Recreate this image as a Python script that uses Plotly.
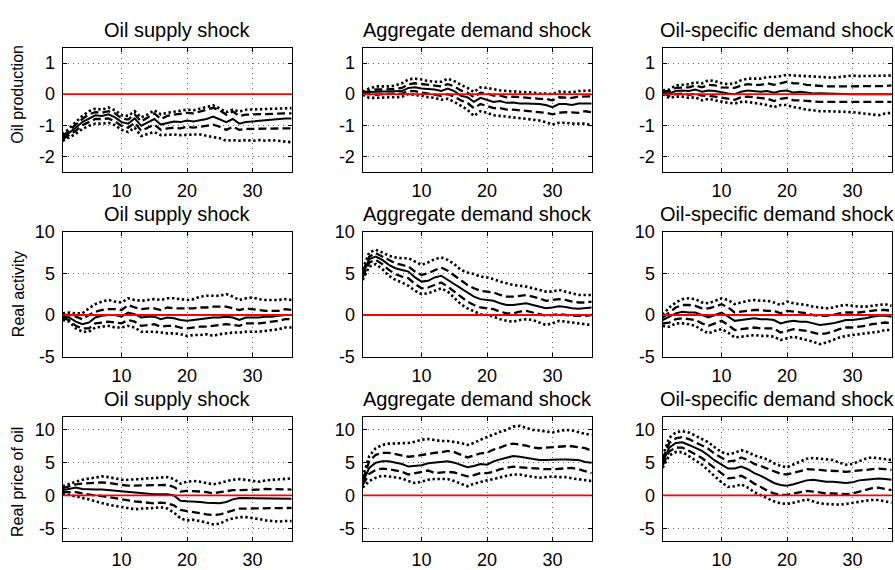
import plotly.graph_objects as go

# Horizon (months), impulse responses with 1- and 2-standard-error bands
horizon = list(range(1, 37))

shock_titles = ["Oil supply shock", "Aggregate demand shock", "Oil-specific demand shock"]
variable_labels = ["Oil production", "Real activity", "Real price of oil"]

y_ranges = [[-2.5, 1.5], [-5, 10], [-7, 12]]
y_tick_vals = [[-2, -1, 0, 1], [-5, 0, 5, 10], [-5, 0, 5, 10]]
y_tick_text = [["-2", "-1", "0", "1"], ["-5", "0", "5", "10"], ["-5", "0", "5", "10"]]
x_tick_vals = [10, 20, 30]
x_tick_text = ["10", "20", "30"]

# ---- Oil production ----
prod_supply_irf = [-1.40, -1.25, -1.08, -0.90, -0.78, -0.68, -0.70, -0.65, -0.75, -0.90, -0.95, -0.78,
                   -1.02, -0.90, -0.80, -0.98, -0.92, -0.88, -0.90, -0.85, -0.88, -0.84, -0.80, -0.72,
                   -0.80, -0.90, -0.80, -0.95, -0.90, -0.88, -0.85, -0.83, -0.80, -0.80, -0.78, -0.78]
prod_supply_hi1 = [-1.35, -1.18, -0.98, -0.80, -0.65, -0.58, -0.60, -0.55, -0.62, -0.78, -0.82, -0.65,
                   -0.88, -0.75, -0.62, -0.80, -0.70, -0.66, -0.64, -0.60, -0.62, -0.56, -0.50, -0.44,
                   -0.52, -0.66, -0.56, -0.70, -0.66, -0.65, -0.64, -0.64, -0.63, -0.62, -0.62, -0.62]
prod_supply_hi2 = [-1.30, -1.10, -0.88, -0.70, -0.55, -0.47, -0.50, -0.43, -0.52, -0.68, -0.70, -0.55,
                   -0.75, -0.65, -0.52, -0.65, -0.60, -0.56, -0.53, -0.50, -0.52, -0.47, -0.42, -0.36,
                   -0.46, -0.58, -0.50, -0.56, -0.50, -0.49, -0.48, -0.47, -0.46, -0.45, -0.45, -0.45]
prod_supply_lo1 = [-1.45, -1.32, -1.18, -1.00, -0.90, -0.80, -0.80, -0.78, -0.88, -1.02, -1.08, -0.92,
                   -1.18, -1.08, -0.98, -1.15, -1.10, -1.08, -1.10, -1.05, -1.08, -1.05, -1.02, -0.98,
                   -1.05, -1.15, -1.05, -1.15, -1.12, -1.12, -1.10, -1.10, -1.10, -1.10, -1.10, -1.10]
prod_supply_lo2 = [-1.50, -1.40, -1.28, -1.12, -1.02, -0.95, -0.95, -0.92, -1.00, -1.15, -1.22, -1.08,
                   -1.35, -1.28, -1.22, -1.32, -1.30, -1.30, -1.32, -1.30, -1.30, -1.30, -1.35, -1.38,
                   -1.42, -1.50, -1.48, -1.50, -1.48, -1.50, -1.48, -1.50, -1.48, -1.50, -1.52, -1.55]

prod_aggd_irf = [0.03, 0.07, 0.08, 0.08, 0.08, 0.09, 0.10, 0.20, 0.22, 0.18, 0.17, 0.15,
                 0.10, 0.18, 0.10, -0.05, -0.10, -0.25, -0.12, -0.18, -0.25, -0.22, -0.28, -0.27,
                 -0.30, -0.30, -0.30, -0.32, -0.35, -0.42, -0.32, -0.32, -0.35, -0.30, -0.30, -0.30]
prod_aggd_hi1 = [0.05, 0.10, 0.15, 0.15, 0.15, 0.17, 0.20, 0.32, 0.35, 0.32, 0.30, 0.28,
                 0.25, 0.32, 0.25, 0.12, 0.05, -0.10, 0.05, 0.02, -0.05, -0.05, -0.10, -0.08,
                 -0.10, -0.10, -0.12, -0.15, -0.15, -0.20, -0.10, -0.10, -0.12, -0.08, -0.07, -0.07]
prod_aggd_hi2 = [0.08, 0.18, 0.25, 0.25, 0.25, 0.28, 0.35, 0.48, 0.50, 0.47, 0.42, 0.40,
                 0.40, 0.50, 0.42, 0.30, 0.20, 0.07, 0.22, 0.20, 0.15, 0.12, 0.10, 0.08,
                 0.07, 0.06, 0.05, 0.02, 0.02, 0.00, 0.08, 0.06, 0.06, 0.10, 0.12, 0.12]
prod_aggd_lo1 = [0.02, 0.00, -0.02, 0.00, 0.00, 0.00, 0.02, 0.10, 0.10, 0.05, 0.02, 0.00,
                 -0.05, 0.00, -0.08, -0.20, -0.28, -0.45, -0.32, -0.38, -0.45, -0.45, -0.50, -0.50,
                 -0.52, -0.52, -0.55, -0.58, -0.60, -0.65, -0.60, -0.58, -0.60, -0.60, -0.55, -0.58]
prod_aggd_lo2 = [-0.02, -0.12, -0.12, -0.10, -0.10, -0.10, -0.08, 0.00, -0.02, -0.05, -0.10, -0.12,
                 -0.18, -0.15, -0.25, -0.38, -0.50, -0.70, -0.55, -0.60, -0.68, -0.70, -0.72, -0.75,
                 -0.78, -0.80, -0.82, -0.85, -0.90, -0.98, -0.92, -0.92, -0.95, -0.95, -0.95, -1.00]

prod_oild_irf = [0.05, 0.02, 0.10, 0.12, 0.10, 0.15, 0.08, 0.12, 0.10, 0.05, 0.02, 0.00,
                 0.08, 0.12, 0.10, 0.08, 0.10, 0.05, 0.10, 0.12, 0.05, 0.08, 0.05, 0.02,
                 0.03, 0.02, 0.02, 0.02, 0.00, 0.00, 0.00, 0.00, 0.00, 0.00, 0.00, 0.00]
prod_oild_hi1 = [0.10, 0.10, 0.20, 0.22, 0.22, 0.28, 0.22, 0.30, 0.28, 0.22, 0.20, 0.20,
                 0.28, 0.32, 0.30, 0.30, 0.35, 0.30, 0.35, 0.40, 0.35, 0.35, 0.30, 0.28,
                 0.28, 0.25, 0.25, 0.25, 0.24, 0.24, 0.24, 0.24, 0.24, 0.25, 0.26, 0.28]
prod_oild_hi2 = [0.12, 0.15, 0.28, 0.30, 0.32, 0.38, 0.35, 0.45, 0.42, 0.35, 0.32, 0.35,
                 0.45, 0.50, 0.50, 0.50, 0.55, 0.55, 0.58, 0.62, 0.60, 0.60, 0.58, 0.57,
                 0.56, 0.55, 0.53, 0.55, 0.57, 0.60, 0.58, 0.58, 0.58, 0.58, 0.58, 0.60]
prod_oild_lo1 = [0.02, -0.05, 0.00, 0.02, -0.02, 0.02, -0.05, -0.05, -0.08, -0.12, -0.15, -0.18,
                 -0.10, -0.08, -0.10, -0.12, -0.15, -0.22, -0.15, -0.12, -0.20, -0.20, -0.22, -0.22,
                 -0.25, -0.25, -0.25, -0.25, -0.25, -0.25, -0.25, -0.25, -0.25, -0.25, -0.25, -0.25]
prod_oild_lo2 = [0.00, -0.12, -0.08, -0.08, -0.12, -0.10, -0.20, -0.15, -0.20, -0.25, -0.28, -0.30,
                 -0.25, -0.25, -0.28, -0.30, -0.35, -0.42, -0.35, -0.35, -0.42, -0.45, -0.50, -0.52,
                 -0.55, -0.55, -0.55, -0.56, -0.57, -0.58, -0.60, -0.62, -0.65, -0.68, -0.62, -0.60]

# ---- Real activity ----
rea_supply_irf = [-0.2, -0.3, -0.8, -1.1, -0.9, -0.3, -0.1, 0.0, 0.0, -0.2, 0.3, 0.1,
                  -0.3, -0.2, -0.2, -0.5, -0.3, -0.4, -0.6, -0.7, -0.6, -0.5, -0.4, -0.3,
                  -0.3, -0.2, -0.3, -0.6, -0.3, -0.3, -0.3, -0.2, -0.2, -0.1, 0.0, 0.0]
rea_supply_hi1 = [0.0, 0.0, -0.2, -0.5, 0.0, 0.4, 0.6, 0.7, 0.7, 0.6, 1.2, 0.9,
                  0.7, 0.8, 0.8, 0.6, 0.9, 0.8, 0.8, 0.8, 0.8, 0.9, 0.9, 1.0,
                  1.0, 1.0, 0.8, 0.6, 0.8, 0.7, 0.6, 0.5, 0.5, 0.5, 0.7, 0.6]
rea_supply_hi2 = [0.2, 0.3, 0.2, 0.2, 0.8, 1.3, 1.6, 1.8, 1.6, 1.5, 2.0, 1.8,
                  1.7, 1.8, 1.9, 1.8, 2.0, 2.0, 1.9, 1.8, 1.9, 2.2, 2.3, 2.3,
                  2.3, 2.5, 2.2, 1.8, 2.0, 2.1, 1.9, 1.8, 1.8, 1.8, 1.9, 1.8]
rea_supply_lo1 = [-0.4, -0.6, -1.3, -1.6, -1.6, -1.0, -0.9, -0.8, -0.9, -1.0, -0.6, -0.8,
                  -1.3, -1.2, -1.1, -1.4, -1.3, -1.3, -1.5, -1.6, -1.5, -1.4, -1.4, -1.3,
                  -1.2, -1.1, -1.2, -1.3, -1.0, -1.0, -1.0, -0.9, -0.8, -0.7, -0.5, -0.5]
rea_supply_lo2 = [-0.6, -0.8, -1.6, -2.0, -2.0, -1.5, -1.4, -1.3, -1.5, -1.5, -1.3, -1.5,
                  -2.0, -2.0, -2.0, -2.1, -2.2, -2.2, -2.3, -2.5, -2.4, -2.4, -2.3, -2.5,
                  -2.3, -2.2, -2.1, -2.1, -2.0, -2.0, -2.0, -1.9, -1.8, -1.7, -1.5, -1.5]

rea_aggd_irf = [4.8, 6.7, 7.0, 6.6, 6.0, 5.6, 5.4, 5.2, 4.5, 4.0, 4.1, 4.5,
                4.7, 4.2, 3.7, 3.1, 2.6, 2.2, 1.9, 1.8, 1.7, 1.4, 1.2, 1.2,
                1.3, 1.4, 1.2, 1.0, 0.8, 0.9, 1.05, 0.95, 0.8, 0.75, 0.8, 0.9]
rea_aggd_hi1 = [5.2, 7.0, 7.4, 7.0, 6.5, 6.2, 6.0, 5.8, 5.2, 4.8, 5.0, 5.4,
                5.7, 5.3, 4.7, 4.1, 3.6, 3.2, 2.9, 2.8, 2.7, 2.4, 2.2, 2.2,
                2.3, 2.4, 2.2, 2.0, 1.7, 1.8, 1.9, 1.8, 1.6, 1.5, 1.5, 1.6]
rea_aggd_hi2 = [5.5, 7.5, 7.8, 7.5, 7.1, 6.9, 6.8, 6.8, 6.4, 6.0, 6.3, 6.7,
                6.9, 6.6, 6.1, 5.4, 5.1, 4.9, 4.6, 4.5, 4.3, 4.0, 3.8, 3.6,
                3.5, 3.4, 3.2, 3.0, 2.8, 2.8, 3.0, 2.8, 2.6, 2.4, 2.4, 2.4]
rea_aggd_lo1 = [4.5, 6.3, 6.6, 6.1, 5.4, 4.9, 4.6, 4.4, 3.7, 3.2, 3.3, 3.6,
                3.9, 3.4, 2.8, 2.1, 1.6, 1.2, 0.9, 0.8, 0.7, 0.4, 0.2, 0.2,
                0.4, 0.5, 0.3, 0.1, -0.1, 0.0, 0.1, 0.0, -0.1, -0.1, -0.1, 0.0]
rea_aggd_lo2 = [4.2, 5.8, 6.1, 5.5, 4.7, 4.2, 3.9, 3.5, 2.9, 2.5, 2.6, 2.9,
                3.2, 2.8, 2.1, 1.3, 0.8, 0.4, 0.1, 0.0, -0.2, -0.5, -0.7, -0.8,
                -0.6, -0.5, -0.6, -0.9, -1.2, -1.0, -0.7, -0.8, -0.9, -1.0, -1.1, -1.2]

rea_oild_irf = [-0.6, -0.2, 0.2, 0.4, 0.3, 0.3, 0.0, -0.3, 0.0, 0.3, -0.2, -0.7,
                -0.6, -0.5, -0.4, -0.5, -0.5, -0.6, -1.0, -0.8, -0.7, -0.8, -0.8, -1.0,
                -1.2, -1.1, -1.0, -0.8, -0.6, -0.6, -0.5, -0.4, -0.2, -0.1, -0.1, -0.2]
rea_oild_hi1 = [-0.3, 0.3, 0.9, 1.2, 1.2, 1.1, 0.8, 0.8, 1.0, 1.3, 0.9, 0.3,
                0.4, 0.5, 0.6, 0.6, 0.5, 0.5, 0.2, 0.5, 0.4, 0.3, 0.2, 0.0,
                -0.1, -0.1, 0.0, 0.2, 0.3, 0.3, 0.3, 0.4, 0.5, 0.6, 0.6, 0.5]
rea_oild_hi2 = [0.0, 0.9, 1.5, 1.9, 2.0, 1.9, 1.5, 1.4, 1.7, 2.0, 1.8, 1.3,
                1.5, 1.7, 1.8, 1.7, 1.7, 1.5, 1.2, 1.6, 1.4, 1.3, 1.2, 1.0,
                0.9, 0.8, 0.9, 1.1, 1.2, 1.1, 1.0, 1.0, 1.1, 1.2, 1.3, 1.1]
rea_oild_lo1 = [-1.0, -0.9, -0.5, -0.4, -0.5, -0.6, -1.0, -1.3, -1.0, -0.7, -1.2, -1.8,
                -1.7, -1.6, -1.5, -1.6, -1.6, -1.6, -2.1, -1.9, -1.7, -1.8, -1.9, -2.1,
                -2.3, -2.2, -2.0, -1.7, -1.5, -1.5, -1.4, -1.3, -1.1, -1.0, -0.9, -1.0]
rea_oild_lo2 = [-1.3, -1.4, -1.0, -1.0, -1.1, -1.3, -1.8, -2.2, -1.9, -1.7, -2.1, -2.7,
                -2.6, -2.5, -2.4, -2.5, -2.5, -2.6, -3.0, -2.8, -2.6, -2.8, -3.0, -3.2,
                -3.5, -3.3, -3.0, -2.7, -2.5, -2.4, -2.3, -2.2, -2.1, -2.0, -1.8, -1.8]

# ---- Real price of oil ----
rpo_supply_irf = [0.8, 1.0, 1.2, 1.0, 0.9, 0.9, 0.9, 0.8, 0.7, 0.6, 0.5, 0.4,
                  0.4, 0.3, 0.2, 0.2, 0.2, 0.0, -0.8, -0.9, -0.9, -1.0, -1.1, -1.2,
                  -1.2, -1.0, -0.6, -0.4, -0.4, -0.4, -0.4, -0.4, -0.4, -0.4, -0.5, -0.5]
rpo_supply_hi1 = [1.1, 1.4, 1.7, 1.8, 1.9, 2.0, 2.0, 1.9, 1.7, 1.6, 1.5, 1.5,
                  1.5, 1.5, 1.5, 1.5, 1.6, 1.3, 0.6, 0.7, 0.7, 0.6, 0.5, 0.3,
                  0.5, 0.7, 0.8, 0.8, 0.8, 0.8, 0.9, 1.0, 1.0, 1.0, 1.0, 0.9]
rpo_supply_hi2 = [1.4, 1.8, 2.1, 2.4, 2.6, 2.7, 2.9, 2.8, 2.6, 2.4, 2.4, 2.4,
                  2.5, 2.6, 2.7, 2.8, 2.8, 2.5, 1.8, 2.1, 2.2, 2.1, 1.9, 1.7,
                  1.9, 2.2, 2.4, 2.5, 2.4, 2.2, 2.1, 2.3, 2.4, 2.4, 2.5, 2.6]
rpo_supply_lo1 = [0.5, 0.5, 0.5, 0.3, 0.1, 0.0, -0.1, -0.2, -0.4, -0.6, -0.8, -0.9,
                  -1.0, -1.1, -1.2, -1.1, -1.2, -1.5, -2.2, -2.4, -2.5, -2.7, -2.9, -3.0,
                  -2.9, -2.6, -2.2, -2.0, -2.0, -2.0, -2.0, -2.0, -2.0, -2.0, -2.0, -1.9]
rpo_supply_lo2 = [0.3, 0.1, -0.1, -0.4, -0.6, -0.9, -1.2, -1.4, -1.6, -1.8, -2.0, -2.1,
                  -2.0, -2.0, -1.9, -1.8, -2.0, -2.6, -3.5, -3.8, -3.7, -3.9, -4.2, -4.4,
                  -4.3, -3.8, -3.5, -3.3, -3.3, -3.4, -3.6, -3.8, -3.9, -4.0, -3.9, -3.9]

rpo_aggd_irf = [2.0, 4.2, 5.0, 5.2, 5.2, 5.0, 4.8, 4.4, 4.5, 4.6, 4.9, 5.0,
                5.1, 5.2, 5.0, 4.6, 4.3, 4.5, 4.8, 4.7, 5.2, 5.5, 5.8, 6.0,
                5.9, 5.7, 5.5, 5.4, 5.4, 5.5, 5.5, 5.5, 5.5, 5.4, 5.1, 5.0]
rpo_aggd_hi1 = [2.4, 5.2, 6.2, 6.5, 6.5, 6.3, 6.2, 5.9, 6.0, 6.2, 6.4, 6.5,
                6.6, 6.8, 6.6, 6.2, 5.8, 6.1, 6.4, 6.5, 7.0, 7.3, 7.7, 7.9,
                7.8, 7.6, 7.3, 7.2, 7.3, 7.4, 7.5, 7.5, 7.5, 7.4, 7.2, 6.8]
rpo_aggd_hi2 = [2.8, 6.0, 7.2, 7.7, 7.9, 7.9, 7.9, 8.0, 8.2, 8.5, 8.6, 8.4,
                8.3, 8.3, 8.2, 8.0, 7.7, 8.0, 8.5, 8.9, 9.4, 9.7, 10.0, 10.5,
                10.6, 10.3, 10.0, 9.9, 9.7, 9.6, 9.8, 10.0, 9.9, 9.6, 9.4, 9.2]
rpo_aggd_lo1 = [1.6, 3.3, 3.9, 4.1, 4.0, 3.8, 3.6, 3.2, 3.4, 3.6, 3.8, 3.4,
                3.5, 3.6, 3.5, 3.2, 2.9, 3.1, 3.4, 3.4, 3.6, 4.0, 4.2, 4.4,
                4.3, 4.2, 4.1, 4.0, 4.0, 4.0, 4.1, 4.2, 4.2, 4.0, 3.7, 3.4]
rpo_aggd_lo2 = [1.2, 2.2, 2.7, 3.0, 2.9, 2.8, 2.6, 2.2, 1.9, 2.1, 2.4, 2.5,
                2.5, 2.5, 2.2, 1.8, 1.4, 1.8, 2.1, 2.3, 2.5, 2.8, 3.0, 3.2,
                3.2, 3.0, 2.9, 2.7, 2.8, 2.9, 2.8, 2.8, 2.6, 2.5, 2.4, 2.2]

rpo_oild_irf = [5.0, 7.3, 8.0, 8.1, 7.7, 7.2, 6.8, 6.1, 5.3, 4.7, 4.1, 4.1,
                4.4, 4.0, 3.4, 3.0, 2.4, 1.9, 1.6, 1.5, 1.7, 2.0, 2.3, 2.4,
                2.2, 2.1, 2.1, 2.0, 1.9, 2.0, 2.3, 2.4, 2.5, 2.6, 2.5, 2.4]
rpo_oild_hi1 = [5.5, 8.0, 8.7, 8.9, 8.6, 8.1, 7.7, 7.1, 6.3, 5.7, 5.2, 5.3,
                5.8, 5.4, 4.8, 4.5, 4.1, 3.6, 3.3, 3.2, 3.4, 3.7, 4.0, 4.0,
                3.9, 3.8, 3.8, 3.7, 3.6, 3.7, 3.8, 3.9, 4.0, 4.1, 4.0, 3.9]
rpo_oild_hi2 = [6.0, 8.8, 9.6, 9.8, 9.6, 9.1, 8.7, 8.1, 7.3, 6.6, 6.3, 6.5,
                6.9, 6.6, 6.1, 5.8, 5.5, 4.9, 4.5, 4.3, 4.7, 5.2, 5.6, 5.7,
                5.6, 5.6, 5.4, 5.0, 4.7, 4.8, 5.2, 5.6, 5.8, 5.7, 5.5, 5.4]
rpo_oild_lo1 = [4.6, 6.7, 7.3, 7.3, 6.8, 6.2, 5.7, 4.9, 4.1, 3.3, 2.6, 2.7,
                3.0, 2.5, 1.8, 1.3, 0.7, 0.3, 0.1, 0.1, 0.3, 0.5, 0.7, 0.6,
                0.4, 0.3, 0.3, 0.2, 0.2, 0.3, 0.6, 0.9, 1.1, 1.2, 1.0, 0.8]
rpo_oild_lo2 = [4.2, 6.1, 6.6, 6.6, 6.0, 5.3, 4.7, 3.8, 2.9, 2.0, 1.3, 1.4,
                1.7, 1.2, 0.5, 0.0, -0.5, -0.9, -1.2, -1.3, -1.1, -0.8, -0.6, -0.9,
                -1.2, -1.3, -1.4, -1.4, -1.3, -1.1, -0.9, -0.8, -0.7, -0.7, -0.9, -1.1]

# panels[row][col] = (irf, lower 1se, upper 1se, lower 2se, upper 2se)
panels = [
    [(prod_supply_irf, prod_supply_lo1, prod_supply_hi1, prod_supply_lo2, prod_supply_hi2),
     (prod_aggd_irf, prod_aggd_lo1, prod_aggd_hi1, prod_aggd_lo2, prod_aggd_hi2),
     (prod_oild_irf, prod_oild_lo1, prod_oild_hi1, prod_oild_lo2, prod_oild_hi2)],
    [(rea_supply_irf, rea_supply_lo1, rea_supply_hi1, rea_supply_lo2, rea_supply_hi2),
     (rea_aggd_irf, rea_aggd_lo1, rea_aggd_hi1, rea_aggd_lo2, rea_aggd_hi2),
     (rea_oild_irf, rea_oild_lo1, rea_oild_hi1, rea_oild_lo2, rea_oild_hi2)],
    [(rpo_supply_irf, rpo_supply_lo1, rpo_supply_hi1, rpo_supply_lo2, rpo_supply_hi2),
     (rpo_aggd_irf, rpo_aggd_lo1, rpo_aggd_hi1, rpo_aggd_lo2, rpo_aggd_hi2),
     (rpo_oild_irf, rpo_oild_lo1, rpo_oild_hi1, rpo_oild_lo2, rpo_oild_hi2)],
]

# ---- layout geometry (pixels) ----
W, H = 895, 570
col_px = [(62.7, 291.7), (362.7, 591.7), (662.7, 891.7)]
row_px = [(39.0, 168.0), (230.0, 360.0), (422.3, 551.7)]
ylabel_center_px = [88, 295, 490]

FONT = "Liberation Sans, Arial, Helvetica, sans-serif"
DOT = "2.4px,2.6px"
DASH = "8px,4px"

fig = go.Figure()
layout = dict(
    width=W, height=H, autosize=False,
    margin=dict(l=0, r=0, t=0, b=0),
    paper_bgcolor="white", plot_bgcolor="white",
    showlegend=False,
    font=dict(family=FONT, size=18, color="black"),
)
annotations = []
shapes = []

for r in range(3):
    for c in range(3):
        k = r * 3 + c + 1
        xa = "x" if k == 1 else f"x{k}"
        ya = "y" if k == 1 else f"y{k}"
        xname = "xaxis" if k == 1 else f"xaxis{k}"
        yname = "yaxis" if k == 1 else f"yaxis{k}"
        x0, x1 = col_px[c]
        top, bot = row_px[r]
        irf, lo1, hi1, lo2, hi2 = panels[r][c]

        for series in (hi2, lo2):
            fig.add_trace(go.Scatter(x=horizon, y=series, mode="lines", xaxis=xa, yaxis=ya,
                                     line=dict(color="black", width=2.6, dash=DOT)))
        for series in (hi1, lo1):
            fig.add_trace(go.Scatter(x=horizon, y=series, mode="lines", xaxis=xa, yaxis=ya,
                                     line=dict(color="black", width=2.3, dash=DASH)))
        fig.add_trace(go.Scatter(x=horizon, y=irf, mode="lines", xaxis=xa, yaxis=ya,
                                 line=dict(color="black", width=2.0)))

        layout[xname] = dict(
            domain=[x0 / W, x1 / W], anchor=ya, range=[1, 36],
            tickvals=x_tick_vals, ticktext=x_tick_text,
            ticks="inside", ticklen=4, tickwidth=1, tickcolor="black",
            showline=True, linecolor="black", linewidth=1.4, mirror="ticks",
            showgrid=True, gridcolor="#666666", gridwidth=1, griddash="1px,4px",
            zeroline=False, tickfont=dict(size=18), ticklabelstandoff=2,
        )
        layout[yname] = dict(
            domain=[1 - bot / H, 1 - top / H], anchor=xa, range=y_ranges[r],
            tickvals=y_tick_vals[r], ticktext=y_tick_text[r],
            ticks="inside", ticklen=4, tickwidth=1, tickcolor="black",
            showline=True, linecolor="black", linewidth=1.4, mirror="ticks",
            showgrid=True, gridcolor="#666666", gridwidth=1, griddash="1px,4px",
            zeroline=False, tickfont=dict(size=18), ticklabelstandoff=3,
        )
        # red zero reference line
        shapes.append(dict(type="line", xref=xa, yref=ya, x0=1, x1=36, y0=0, y1=0,
                           line=dict(color="#ff0000", width=1.8), layer="above"))
        # panel title
        annotations.append(dict(text=shock_titles[c], xref="paper", yref="paper",
                                x=(x0 + x1) / 2 / W, y=1 - top / H,
                                xanchor="center", yanchor="bottom", yshift=5,
                                showarrow=False, font=dict(size=20, family=FONT)))
    annotations.append(dict(text=variable_labels[r], xref="paper", yref="paper",
                            x=18 / W, y=1 - ylabel_center_px[r] / H,
                            xanchor="center", yanchor="middle", textangle=-90,
                            showarrow=False, font=dict(size=16, family=FONT)))

layout["annotations"] = annotations
layout["shapes"] = shapes
fig.update_layout(**layout)
fig.write_html("out.html")
